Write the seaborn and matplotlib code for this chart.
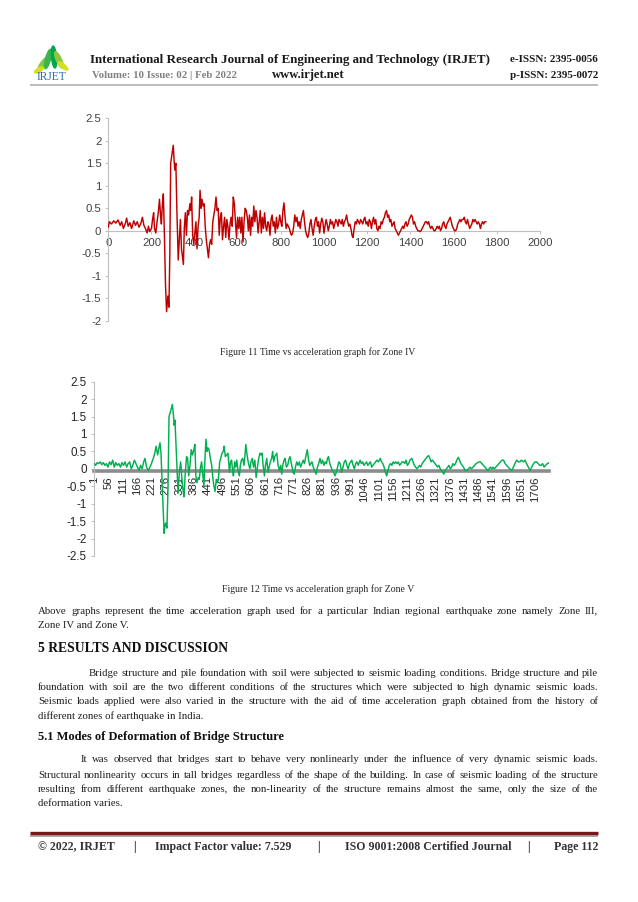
import matplotlib
matplotlib.use("Agg")
import matplotlib.pyplot as plt
import seaborn as sns
import pandas as pd
from matplotlib.patches import Ellipse
from matplotlib.lines import Line2D

# ---------------- data ----------------
red_time = [0, 5, 15, 25, 35, 45, 55, 62, 70, 78, 85, 92, 100, 108, 118, 126, 134, 142, 150, 158,
            165, 172, 180, 186, 192, 200, 205, 210, 214, 220, 226, 232, 237, 242, 246, 250, 255, 260, 265, 270,
            276, 281, 285, 289, 295, 301, 305, 308, 313, 318, 324, 329, 334, 339, 344, 348, 352, 357, 362, 367,
            372, 378, 382, 386, 391, 396, 401, 406, 411, 416, 421, 425, 430, 434, 439, 444, 449, 454, 459, 464,
            469, 474, 479, 484, 489, 494, 499, 504, 509, 514, 519, 524, 529, 534, 539, 544, 549, 554, 559, 564,
            569, 574, 579, 584, 589, 594, 599, 604, 609, 614, 619, 624, 629, 634, 639, 644, 649, 654, 659, 664,
            669, 674, 679, 684, 689, 694, 699, 704, 709, 714, 719, 724, 729, 734, 739, 744, 749, 754, 759, 764,
            769, 774, 779, 784, 789, 794, 799, 804, 809, 814, 819, 824, 829, 834, 839, 844, 849, 854, 859, 864,
            869, 874, 879, 884, 889, 894, 899, 904, 909, 914, 919, 924, 929, 934, 939, 944, 949, 954, 959, 964,
            969, 974, 979, 984, 989, 994, 999, 1004, 1009, 1014, 1019, 1024, 1029, 1034, 1039, 1044, 1049, 1054, 1059, 1064,
            1069, 1074, 1079, 1084, 1089, 1094, 1099, 1104, 1109, 1114, 1119, 1124, 1129, 1134, 1139, 1144, 1149, 1154, 1159, 1164,
            1169, 1174, 1179, 1184, 1189, 1194, 1199, 1204, 1209, 1214, 1219, 1224, 1229, 1234, 1239, 1244, 1249, 1254, 1259, 1264,
            1269, 1274, 1279, 1284, 1289, 1294, 1299, 1304, 1309, 1314, 1319, 1324, 1329, 1334, 1339, 1344, 1349, 1354, 1359, 1364,
            1369, 1374, 1379, 1384, 1389, 1394, 1399, 1404, 1409, 1414, 1419, 1424, 1429, 1434, 1439, 1444, 1449, 1454, 1459, 1464,
            1469, 1474, 1479, 1484, 1489, 1494, 1499, 1504, 1509, 1514, 1519, 1524, 1529, 1534, 1539, 1544, 1549, 1554, 1559, 1564,
            1569, 1574, 1579, 1584, 1589, 1594, 1599, 1604, 1609, 1614, 1619, 1624, 1629, 1634, 1639, 1644, 1649, 1654, 1659, 1664,
            1669, 1674, 1679, 1684, 1689, 1694, 1699, 1704, 1709, 1714, 1719, 1724, 1729, 1734, 1739, 1744, 1750]
red_accel = [0.08, 0.20, 0.15, 0.22, 0.17, 0.24, 0.12, 0.20, 0.05, 0.15, 0.28, 0.10, 0.18, 0.05, 0.22, 0.12, 0.20, 0.08, 0.15, 0.30,
             0.12, 0.05, -0.05, 0.10, -0.02, 0.05, 0.25, 0.40, 0.05, -0.05, 0.20, 0.42, 0.70, 0.35, 0.15, 0.55, 0.82, -0.10, -1.20, -1.80,
             -1.45, -1.70, -0.50, 1.50, 1.70, 1.90, 1.55, 1.35, 1.50, 0.40, -0.65, -0.20, 0.25, -0.40, -0.60, -0.75, 0.05, 0.40, -0.10, 0.45,
             0.35, 0.60, 0.45, 0.75, -0.10, -0.30, -0.05, 0.20, -0.40, 0.10, 0.30, 0.90, 0.50, 0.70, 0.55, 0.60, 0.10, -0.20, -0.40, -0.60,
             -0.30, -0.20, -0.30, 0.20, 0.35, 0.50, 0.75, 0.45, 0.50, -0.10, 0.30, 0.40, -0.20, 0.10, 0.30, -0.15, 0.25, 0.10, -0.20, 0.15,
             0.30, 0.10, 0.75, 0.60, 0.20, -0.15, 0.30, 0.05, 0.30, -0.05, 0.30, -0.25, 0.20, 0.50, 0.45, 0.30, 0.00, 0.35, -0.10, 0.30,
             0.10, 0.55, 0.20, 0.45, 0.30, -0.05, 0.20, 0.45, -0.05, 0.30, 0.05, 0.40, 0.10, 0.00, 0.20, 0.15, -0.10, 0.25, 0.35, 0.10,
             0.20, -0.05, 0.30, 0.05, 0.15, 0.35, 0.20, 0.10, 0.45, 0.62, 0.30, 0.05, 0.15, 0.10, 0.05, -0.05, -0.10, -0.05, 0.10, 0.35,
             0.20, 0.30, 0.10, 0.20, 0.05, 0.25, 0.35, 0.45, 0.20, 0.00, -0.10, -0.15, -0.05, 0.15, 0.25, 0.05, -0.10, 0.10, 0.25, 0.30,
             0.10, 0.20, -0.05, 0.15, 0.28, 0.20, -0.05, 0.10, 0.25, 0.15, 0.00, 0.10, 0.25, 0.15, 0.20, 0.05, 0.15, 0.25, 0.20, 0.10,
             0.25, 0.20, 0.15, 0.25, 0.10, 0.20, 0.25, 0.35, 0.20, 0.10, 0.15, 0.05, -0.10, -0.15, 0.05, 0.20, 0.15, 0.25, 0.20, 0.15,
             0.25, 0.20, 0.15, 0.25, 0.30, 0.15, 0.20, 0.10, 0.25, 0.20, 0.05, 0.20, 0.30, 0.15, 0.25, 0.05, 0.00, 0.10, 0.05, 0.20,
             0.15, 0.25, 0.30, 0.40, 0.45, 0.30, 0.35, 0.20, 0.25, 0.10, 0.15, 0.20, 0.05, 0.00, -0.05, -0.10, -0.05, 0.00, 0.05, 0.10,
             0.05, 0.15, 0.20, 0.10, 0.15, 0.25, 0.30, 0.35, 0.30, 0.15, 0.20, 0.10, 0.05, 0.00, 0.00, -0.02, 0.00, 0.05, 0.10, 0.15,
             0.20, 0.20, 0.15, 0.20, 0.10, 0.05, 0.10, 0.05, 0.00, 0.00, 0.05, 0.10, 0.05, 0.10, 0.00, 0.05, 0.15, 0.20, 0.10, 0.05,
             0.15, 0.20, 0.25, 0.30, 0.20, 0.10, 0.05, 0.00, 0.00, 0.05, 0.15, 0.20, 0.25, 0.20, 0.25, 0.25, 0.30, 0.20, 0.15, 0.25,
             0.15, 0.05, 0.10, 0.15, 0.25, 0.20, 0.25, 0.20, 0.15, 0.20, 0.15, 0.05, 0.15, 0.20, 0.15, 0.20, 0.20]

green_step = [1, 6, 12, 18, 24, 30, 36, 42, 48, 54, 60, 66, 72, 78, 84, 90, 96, 102, 108, 114,
              120, 126, 132, 138, 144, 150, 156, 162, 168, 174, 180, 186, 192, 197, 203, 210, 216, 222, 229, 235,
              240, 246, 251, 255, 259, 264, 271, 275, 278, 282, 286, 290, 296, 303, 307, 310, 313, 318, 325, 330,
              335, 340, 345, 348, 353, 358, 362, 366, 371, 376, 381, 386, 390, 394, 398, 403, 407, 412, 416, 420,
              425, 429, 433, 437, 441, 445, 450, 455, 460, 464, 468, 473, 477, 481, 486, 490, 495, 500, 503, 508,
              513, 518, 524, 528, 532, 536, 539, 544, 548, 552, 557, 562, 566, 570, 575, 580, 584, 587, 591, 595,
              599, 603, 607, 612, 617, 622, 627, 632, 637, 642, 646, 650, 654, 659, 663, 668, 673, 677, 682, 687,
              691, 695, 699, 703, 707, 712, 717, 722, 726, 730, 735, 739, 744, 749, 753, 758, 762, 766, 770, 774,
              779, 784, 789, 794, 799, 804, 809, 814, 819, 822, 825, 829, 834, 838, 843, 848, 853, 859, 864, 869,
              874, 879, 884, 889, 894, 899, 903, 907, 912, 917, 922, 927, 932, 937, 942, 947, 952, 958, 963, 968,
              973, 978, 983, 988, 993, 997, 1002, 1007, 1012, 1017, 1022, 1029, 1034, 1039, 1044, 1049, 1054, 1059, 1064, 1069,
              1074, 1079, 1084, 1089, 1094, 1100, 1107, 1112, 1117, 1122, 1127, 1132, 1137, 1142, 1147, 1152, 1157, 1162, 1167, 1172,
              1177, 1182, 1187, 1192, 1197, 1202, 1207, 1212, 1217, 1222, 1229, 1234, 1239, 1244, 1249, 1254, 1259, 1264, 1269, 1274,
              1279, 1284, 1289, 1294, 1299, 1304, 1309, 1314, 1319, 1324, 1329, 1334, 1339, 1344, 1349, 1353, 1358, 1363, 1368, 1373,
              1378, 1383, 1388, 1393, 1398, 1403, 1409, 1414, 1419, 1424, 1429, 1436, 1442, 1448, 1454, 1460, 1466, 1472, 1478, 1484,
              1490, 1494, 1500, 1506, 1512, 1518, 1523, 1528, 1533, 1538, 1543, 1548, 1554, 1560, 1566, 1572, 1578, 1584, 1590, 1596,
              1602, 1608, 1616, 1622, 1628, 1635, 1641, 1647, 1653, 1661, 1667, 1673, 1680, 1687, 1693, 1700, 1706, 1712, 1718, 1724,
              1729, 1735, 1741, 1747, 1753, 1761]
green_accel = [0.15, 0.10, 0.18, 0.15, 0.20, 0.12, 0.18, 0.10, 0.15, 0.05, 0.20, 0.12, 0.25, 0.05, 0.18, 0.10, 0.15, 0.05, 0.18, 0.10,
               0.20, 0.05, 0.15, 0.20, 0.00, 0.10, 0.25, 0.15, 0.05, -0.05, 0.10, 0.00, 0.20, 0.30, 0.05, -0.05, 0.05, 0.15, 0.30, 0.45,
               0.65, 0.40, 0.60, 0.75, 0.45, -0.50, -1.85, -1.60, -1.55, -1.70, -0.60, 1.50, 1.65, 1.85, 1.55, 1.25, 1.40, 0.50, -0.70, -0.10,
               0.20, -0.30, -0.65, -0.80, -0.10, 0.35, 0.30, -0.20, 0.10, 0.55, 0.40, 0.55, 0.70, -0.20, -0.40, -0.25, -0.30, 0.05, 0.20, -0.10,
               -0.50, 0.30, 0.85, 0.50, 0.60, 0.55, 0.30, 0.10, -0.30, -0.50, -0.65, -0.30, -0.40, -0.30, 0.20, 0.30, 0.45, 0.50, 0.65, 0.35,
               0.40, 0.45, -0.10, 0.20, 0.25, -0.05, -0.20, 0.20, 0.05, 0.25, -0.05, -0.20, 0.10, 0.25, 0.30, 0.10, 0.40, 0.70, 0.45, 0.25,
               0.10, 0.00, 0.20, 0.30, 0.05, 0.25, -0.25, 0.05, 0.30, 0.45, 0.40, 0.45, 0.10, -0.20, 0.10, 0.30, -0.10, 0.05, 0.20, 0.30,
               0.50, 0.20, 0.35, 0.40, 0.45, 0.10, -0.05, 0.10, -0.15, 0.10, 0.25, 0.30, 0.05, 0.10, 0.25, 0.35, 0.20, 0.05, -0.10, -0.15,
               0.05, 0.20, 0.10, 0.20, 0.05, 0.15, 0.25, 0.15, 0.35, 0.45, 0.55, 0.30, 0.10, 0.15, 0.20, 0.05, -0.05, -0.15, 0.05, 0.15,
               0.30, 0.15, 0.25, 0.10, 0.20, 0.15, 0.30, 0.35, 0.15, 0.05, -0.05, -0.10, -0.20, -0.10, 0.05, 0.20, 0.15, -0.10, 0.05, 0.20,
               0.25, 0.10, 0.00, 0.15, 0.20, 0.25, 0.10, 0.00, 0.15, 0.20, 0.10, 0.25, 0.15, 0.20, 0.10, 0.15, 0.20, 0.10, 0.15, 0.20,
               0.05, 0.10, 0.15, 0.20, 0.25, 0.20, 0.30, 0.20, 0.15, 0.05, -0.10, -0.20, -0.05, 0.10, 0.15, 0.10, 0.20, 0.15, 0.20, 0.15,
               0.20, 0.10, 0.15, 0.20, 0.20, 0.15, 0.25, 0.10, 0.15, 0.25, 0.30, 0.20, 0.10, 0.05, 0.00, 0.05, 0.10, 0.05, 0.15, 0.20,
               0.25, 0.30, 0.35, 0.38, 0.30, 0.20, 0.25, 0.20, 0.15, 0.10, 0.05, 0.10, 0.00, -0.05, -0.10, -0.15, -0.05, 0.00, 0.05, 0.10,
               0.00, 0.05, 0.15, 0.10, 0.15, 0.25, 0.33, 0.25, 0.15, 0.10, 0.05, -0.05, -0.05, 0.00, 0.05, 0.00, 0.05, 0.10, 0.15, 0.18,
               0.20, 0.20, 0.15, 0.10, 0.05, 0.00, -0.05, 0.00, 0.05, 0.00, 0.05, 0.00, 0.05, 0.10, 0.15, 0.20, 0.25, 0.25, 0.15, 0.10,
               0.05, 0.00, -0.05, 0.05, 0.15, 0.25, 0.20, 0.20, 0.25, 0.20, 0.25, 0.15, 0.05, -0.05, 0.05, 0.15, 0.20, 0.20, 0.15, 0.10,
               0.10, 0.15, 0.05, 0.10, 0.15, 0.18]

red_xticks = [0, 200, 400, 600, 800, 1000, 1200, 1400, 1600, 1800, 2000]
red_yticks = [-2, -1.5, -1, -0.5, 0, 0.5, 1, 1.5, 2, 2.5]
red_ylabels = ["-2", "-1.5", "-1", "-0.5", "0", "0.5", "1", "1.5", "2", "2.5"]
green_xticks = [1, 56, 111, 166, 221, 276, 331, 386, 441, 496, 551, 606, 661, 716, 771, 826, 881, 936, 991,
                1046, 1101, 1156, 1211, 1266, 1321, 1376, 1431, 1486, 1541, 1596, 1651, 1706]
green_yticks = [-2.5, -2, -1.5, -1, -0.5, 0, 0.5, 1, 1.5, 2, 2.5]
green_ylabels = ["-2.5", "-2", "-1.5", "-1", "-0.5", "0", "0.5", "1", "1.5", "2", "2.5"]

# ---------------- page ----------------
sns.set_style("white")
plt.rcParams['font.family'] = ['Liberation Sans', 'DejaVu Sans']
SERIF = ['Liberation Serif', 'DejaVu Serif']

W, H = 638, 902
fig = plt.figure(figsize=(6.38, 9.02), dpi=100)
fig.patch.set_facecolor('white')
renderer = fig.canvas.get_renderer()


def fx(x):
    return x / W


def fy(y):
    return 1 - y / H


def put(x, y, s, size, ha='left', width=None, **kw):
    kw.setdefault('family', SERIF)
    t = fig.text(fx(x), fy(y), s, fontsize=size, ha=ha, va='center', **kw)
    if width:
        w = t.get_window_extent(renderer).width
        t.set_fontsize(size * width / w)
    return t


def fit_size(x0, x1, line, size, **kw):
    kw.setdefault('family', SERIF)
    probe = fig.text(0, 0, line, fontsize=size, **kw)
    natural = probe.get_window_extent(renderer).width
    probe.remove()
    return min(size, size * (x1 - x0) * 0.985 / natural)


def justify(x0, x1, y, line, size, **kw):
    kw.setdefault('family', SERIF)
    words = line.split()
    ts = [fig.text(0, 0, wd, fontsize=size, va='center', **kw) for wd in words]
    widths = [t.get_window_extent(renderer).width for t in ts]
    gap = (x1 - x0 - sum(widths)) / (len(words) - 1)
    x = x0
    for t, wd in zip(ts, widths):
        t.set_position((fx(x), fy(y)))
        x += wd + gap


def hline(x0, x1, y, color, lw):
    fig.add_artist(Line2D([fx(x0), fx(x1)], [fy(y), fy(y)], transform=fig.transFigure,
                          color=color, linewidth=lw, solid_capstyle='butt'))


# header logo
lax = fig.add_axes([30 / W, 1 - 86 / H, 44 / W, 44 / H])
lax.set_xlim(0, 44)
lax.set_ylim(44, 0)
lax.axis('off')
leaves = [(13, 22, 5, 16, 35, '#8cc63f'), (18, 17, 5, 20, 15, '#39b54a'), (24, 15, 5, 22, -5, '#00a651'),
          (29, 18, 5, 18, -25, '#8cc63f'), (33, 24, 4, 12, -50, '#d7df23'), (9, 28, 4, 10, 60, '#d7df23')]
for (cx, cy, w_, h_, ang, col) in leaves:
    lax.add_patch(Ellipse((cx, cy), w_, h_, angle=ang, color=col))
put(37, 77, "IRJET", 7, color='#2e6db4', width=30)

put(90, 60, "International Research Journal of Engineering and Technology (IRJET)", 9,
    width=400, weight='bold', color='#1a1a1a')
put(598, 60, "e-ISSN: 2395-0056", 8, ha='right', width=88, weight='bold', color='#1a1a1a')
put(92, 75, "Volume: 10 Issue: 02 | Feb 2022", 8, width=143, color='#808080', weight='bold')
put(272, 75, "www.irjet.net", 8, width=73, weight='bold', color='#1a1a1a')
put(598, 75, "p-ISSN: 2395-0072", 8, ha='right', width=88, weight='bold', color='#1a1a1a')
hline(30, 598, 85, '#b0b0b0', 1.2)

# ---------------- Figure 11 (red) ----------------
ax1 = fig.add_axes([108.3 / W, 1 - 320.7 / H, 431.7 / W, 202.4 / H])
ax1.patch.set_alpha(0)
df1 = pd.DataFrame({'time': red_time, 'accel': red_accel})
sns.lineplot(data=df1, x='time', y='accel', ax=ax1, color='#C00000', linewidth=1.05,
             estimator=None, sort=False, zorder=3)
for s in ('top', 'right'):
    ax1.spines[s].set_visible(False)
ax1.spines['left'].set_color('#bfbfbf')
ax1.spines['left'].set_linewidth(0.8)
ax1.spines['bottom'].set_position(('data', 0))
ax1.spines['bottom'].set_color('#bfbfbf')
ax1.spines['bottom'].set_linewidth(0.8)
ax1.set_xlim(0, 2000)
ax1.set_ylim(-2, 2.5)
ax1.set_xticks(red_xticks)
ax1.set_xticklabels([str(v) for v in red_xticks])
ax1.set_yticks(red_yticks)
ax1.set_yticklabels(red_ylabels)
ax1.set_xlabel('')
ax1.set_ylabel('')
ax1.tick_params(axis='y', length=2.5, width=0.7, color='#bfbfbf', labelsize=8.2,
                labelcolor='#404040', pad=2.5, left=True)
ax1.tick_params(axis='x', length=2.5, width=0.7, color='#bfbfbf', labelsize=8.2,
                labelcolor='#404040', pad=2.6, bottom=True, direction='out')
put(318, 352, "Figure 11 Time vs acceleration graph for Zone IV", 7, ha='center', width=196,
    color='#262626')

# ---------------- Figure 12 (green) ----------------
ax2 = fig.add_axes([94.3 / W, 1 - 556 / H, 455 / W, 174.3 / H])
ax2.patch.set_alpha(0)
df2 = pd.DataFrame({'step': green_step, 'accel': green_accel})
sns.lineplot(data=df2, x='step', y='accel', ax=ax2, color='#00B050', linewidth=1.05,
             estimator=None, sort=False, zorder=3)
for s in ('top', 'right'):
    ax2.spines[s].set_visible(False)
ax2.spines['left'].set_color('#bfbfbf')
ax2.spines['left'].set_linewidth(0.8)
ax2.spines['bottom'].set_position(('data', -0.05))
ax2.spines['bottom'].set_color('#8c8c8c')
ax2.spines['bottom'].set_linewidth(2.6)
ax2.spines['bottom'].set_zorder(2)
ax2.set_xlim(1, 1761)
ax2.set_ylim(-2.5, 2.5)
ax2.set_xticks(green_xticks)
ax2.set_xticklabels([str(v) for v in green_xticks])
ax2.set_yticks(green_yticks)
ax2.set_yticklabels(green_ylabels)
ax2.set_xlabel('')
ax2.set_ylabel('')
ax2.tick_params(axis='y', length=2.5, width=0.7, color='#bfbfbf', labelsize=8.4,
                labelcolor='#262626', pad=3, left=True)
ax2.tick_params(axis='x', length=0, labelsize=8.2, labelcolor='#262626', pad=4, labelrotation=90)
for lab in ax2.get_xticklabels():
    lab.set_va('top')
    lab.set_ha('center')
put(318, 589, "Figure 12 Time vs acceleration graph for Zone V", 7, ha='center', width=193,
    color='#262626')

# ---------------- body text ----------------
TXT = '#1e1e1e'
body = [
    ('j', 38, 611, "Above graphs represent the time acceleration graph used for a particular Indian regional "
                   "earthquake zone namely Zone III,"),
    ('l', 38, 626, "Zone IV and Zone V."),
    ('j', 89, 673, "Bridge structure and pile foundation with soil were subjected to seismic loading conditions. "
                   "Bridge structure and pile"),
    ('j', 38, 687, "foundation with soil are the two different conditions of the structures which were subjected "
                   "to high dynamic seismic loads."),
    ('j', 38, 702, "Seismic loads applied were also varied in the structure with the aid of time acceleration "
                   "graph obtained from the history of"),
    ('l', 38, 716, "different zones of earthquake in India."),
    ('j', 81, 760, "It was observed that bridges start to behave very nonlinearly under the influence of very "
                   "dynamic seismic loads."),
    ('j', 38, 775, "Structural nonlinearity occurs in tall bridges regardless of the shape of the building. "
                   "In case of seismic loading of the structure"),
    ('j', 38, 789, "resulting from different earthquake zones, the non-linearity of the structure remains "
                   "almost the same, only the size of the"),
    ('l', 38, 804, "deformation varies."),
]
BS = min(fit_size(x0, 598, s, 8.6) for (k, x0, y, s) in body if k == 'j')
for (k, x0, y, s) in body:
    if k == 'j':
        justify(x0, 598, y, s, BS, color=TXT)
    else:
        put(x0, y, s, BS, color=TXT)

put(38, 649, "5 RESULTS AND DISCUSSION", 9, width=190, weight='bold', color='#111111')
put(38, 737, "5.1 Modes of Deformation of Bridge Structure", 9, width=246, weight='bold', color='#111111')

# ---------------- footer ----------------
hline(30, 598, 835.5, '#9a9a9a', 1.2)
hline(30, 598, 832.5, '#7a1518', 2.4)
FS = 8.6
FC = '#333333'
put(38, 847, "\u00a9 2022, IRJET", FS, weight='bold', color=FC)
put(134, 847, "|", FS, ha='center', weight='bold', color=FC)
put(155, 847, "Impact Factor value: 7.529", FS, weight='bold', color=FC)
put(318, 847, "|", FS, ha='center', weight='bold', color=FC)
put(345, 847, "ISO 9001:2008 Certified Journal", FS, weight='bold', color=FC)
put(528, 847, "|", FS, ha='center', weight='bold', color=FC)
put(598, 847, "Page 112", FS, ha='right', weight='bold', color=FC)

fig.savefig("out.png", dpi=100, facecolor='white')
